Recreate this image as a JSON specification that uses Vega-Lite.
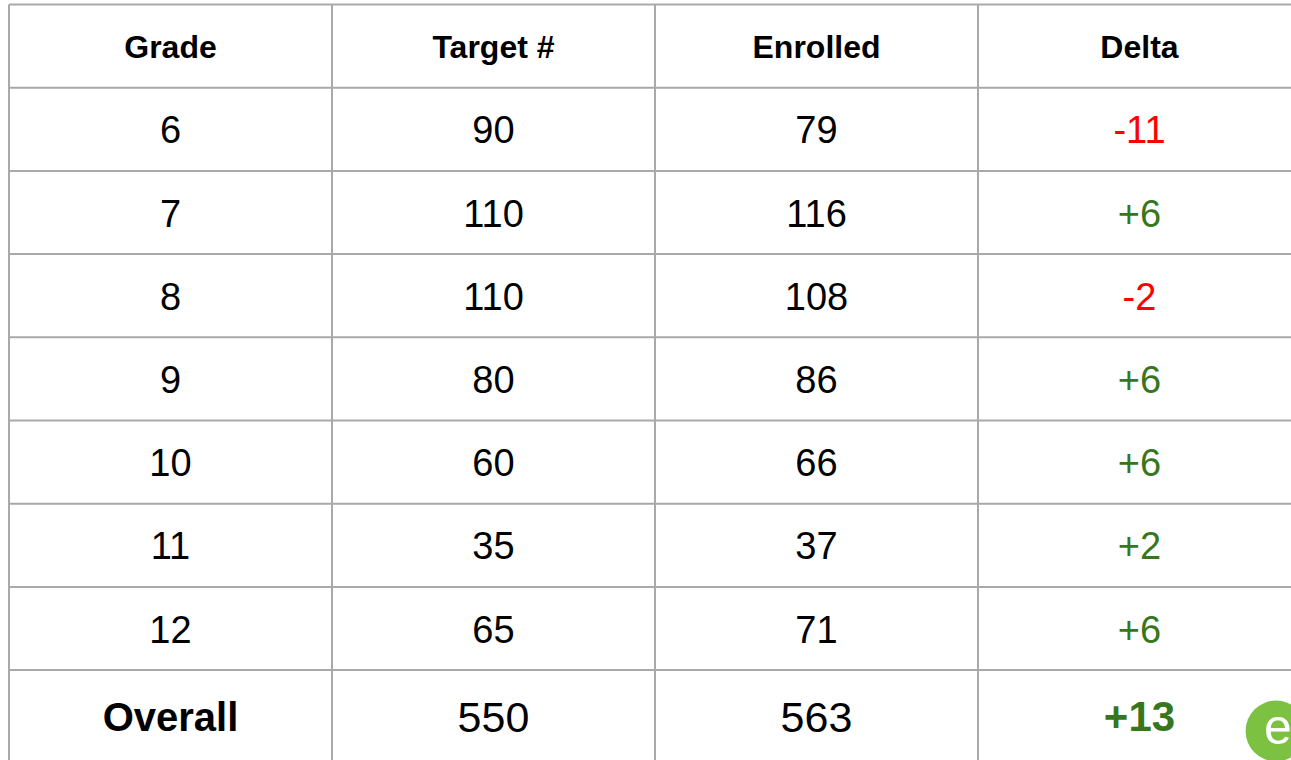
{
  "$schema": "https://vega.github.io/schema/vega-lite/v6.json",
  "width": 1291,
  "height": 760,
  "autosize": {"type": "fit", "contains": "padding"},
  "padding": 0,
  "background": "white",
  "config": {"view": {"stroke": null}, "text": {"font": "Liberation Sans"}},
  "datasets": {
    "cells": [
      {"col": 0, "row": 0, "label": "Grade", "kind": "header", "tone": "none"},
      {"col": 1, "row": 0, "label": "Target #", "kind": "header", "tone": "none"},
      {"col": 2, "row": 0, "label": "Enrolled", "kind": "header", "tone": "none"},
      {"col": 3, "row": 0, "label": "Delta", "kind": "header", "tone": "none"},
      {"col": 0, "row": 1, "label": "6", "kind": "body", "tone": "none"},
      {"col": 1, "row": 1, "label": "90", "kind": "body", "tone": "none"},
      {"col": 2, "row": 1, "label": "79", "kind": "body", "tone": "none"},
      {"col": 3, "row": 1, "label": "-11", "kind": "body", "tone": "neg"},
      {"col": 0, "row": 2, "label": "7", "kind": "body", "tone": "none"},
      {"col": 1, "row": 2, "label": "110", "kind": "body", "tone": "none"},
      {"col": 2, "row": 2, "label": "116", "kind": "body", "tone": "none"},
      {"col": 3, "row": 2, "label": "+6", "kind": "body", "tone": "pos"},
      {"col": 0, "row": 3, "label": "8", "kind": "body", "tone": "none"},
      {"col": 1, "row": 3, "label": "110", "kind": "body", "tone": "none"},
      {"col": 2, "row": 3, "label": "108", "kind": "body", "tone": "none"},
      {"col": 3, "row": 3, "label": "-2", "kind": "body", "tone": "neg"},
      {"col": 0, "row": 4, "label": "9", "kind": "body", "tone": "none"},
      {"col": 1, "row": 4, "label": "80", "kind": "body", "tone": "none"},
      {"col": 2, "row": 4, "label": "86", "kind": "body", "tone": "none"},
      {"col": 3, "row": 4, "label": "+6", "kind": "body", "tone": "pos"},
      {"col": 0, "row": 5, "label": "10", "kind": "body", "tone": "none"},
      {"col": 1, "row": 5, "label": "60", "kind": "body", "tone": "none"},
      {"col": 2, "row": 5, "label": "66", "kind": "body", "tone": "none"},
      {"col": 3, "row": 5, "label": "+6", "kind": "body", "tone": "pos"},
      {"col": 0, "row": 6, "label": "11", "kind": "body", "tone": "none"},
      {"col": 1, "row": 6, "label": "35", "kind": "body", "tone": "none"},
      {"col": 2, "row": 6, "label": "37", "kind": "body", "tone": "none"},
      {"col": 3, "row": 6, "label": "+2", "kind": "body", "tone": "pos"},
      {"col": 0, "row": 7, "label": "12", "kind": "body", "tone": "none"},
      {"col": 1, "row": 7, "label": "65", "kind": "body", "tone": "none"},
      {"col": 2, "row": 7, "label": "71", "kind": "body", "tone": "none"},
      {"col": 3, "row": 7, "label": "+6", "kind": "body", "tone": "pos"},
      {"col": 0, "row": 8, "label": "Overall", "kind": "totalLabel", "tone": "none"},
      {"col": 1, "row": 8, "label": "550", "kind": "totalValue", "tone": "none"},
      {"col": 2, "row": 8, "label": "563", "kind": "totalValue", "tone": "none"},
      {"col": 3, "row": 8, "label": "+13", "kind": "totalDelta", "tone": "pos"}
    ],
    "vlines": [{"b": -0.5}, {"b": 0.5}, {"b": 1.5}, {"b": 2.5}, {"b": 3.5}],
    "hlines": [{"b": -0.5}, {"b": 0.5}, {"b": 1.5}, {"b": 2.5}, {"b": 3.5}, {"b": 4.5}, {"b": 5.5}, {"b": 6.5}, {"b": 7.5}],
    "logo": [{"lx": 3.4226, "ly": 8.232, "t": "e"}]
  },
  "layer": [
    {
      "data": {"name": "vlines"},
      "mark": {"type": "rule", "color": "#a9a9a9", "strokeWidth": 2, "clip": true},
      "encoding": {
        "x": {"field": "b", "type": "quantitative", "scale": {"domain": [-0.52786, 3.46904], "zero": false, "nice": false}, "axis": null},
        "y": {"datum": -0.5, "type": "quantitative", "scale": {"domain": [-0.5541, 8.5805], "zero": false, "nice": false, "reverse": true}, "axis": null},
        "y2": {"datum": 9.5}
      }
    },
    {
      "data": {"name": "hlines"},
      "mark": {"type": "rule", "color": "#a9a9a9", "strokeWidth": 2, "clip": true},
      "encoding": {
        "y": {"field": "b", "type": "quantitative", "scale": {"domain": [-0.5541, 8.5805], "zero": false, "nice": false, "reverse": true}, "axis": null},
        "x": {"datum": -0.5, "type": "quantitative", "scale": {"domain": [-0.52786, 3.46904], "zero": false, "nice": false}, "axis": null},
        "x2": {"datum": 3.5}
      }
    },
    {
      "data": {"name": "cells"},
      "transform": [{"filter": "datum.kind === 'header'"}],
      "mark": {"type": "text", "fontWeight": "bold", "fontSize": 32, "baseline": "middle", "align": "center", "color": "#000000", "dy": 2},
      "encoding": {
        "x": {"field": "col", "type": "quantitative", "scale": {"domain": [-0.52786, 3.46904], "zero": false, "nice": false}, "axis": null},
        "y": {"field": "row", "type": "quantitative", "scale": {"domain": [-0.5541, 8.5805], "zero": false, "nice": false, "reverse": true}, "axis": null},
        "text": {"field": "label"}
      }
    },
    {
      "data": {"name": "cells"},
      "transform": [{"filter": "datum.kind === 'body'"}],
      "mark": {"type": "text", "fontSize": 38, "baseline": "middle", "align": "center", "dy": 3},
      "encoding": {
        "x": {"field": "col", "type": "quantitative", "scale": {"domain": [-0.52786, 3.46904], "zero": false, "nice": false}, "axis": null},
        "y": {"field": "row", "type": "quantitative", "scale": {"domain": [-0.5541, 8.5805], "zero": false, "nice": false, "reverse": true}, "axis": null},
        "text": {"field": "label"},
        "color": {"field": "tone", "type": "nominal", "scale": {"domain": ["none", "neg", "pos"], "range": ["#000000", "#ff0000", "#38761d"]}, "legend": null}
      }
    },
    {
      "data": {"name": "cells"},
      "transform": [{"filter": "datum.kind === 'totalLabel'"}],
      "mark": {"type": "text", "fontWeight": "bold", "fontSize": 40, "baseline": "middle", "align": "center", "color": "#000000", "dy": 7},
      "encoding": {
        "x": {"field": "col", "type": "quantitative", "scale": {"domain": [-0.52786, 3.46904], "zero": false, "nice": false}, "axis": null},
        "y": {"field": "row", "type": "quantitative", "scale": {"domain": [-0.5541, 8.5805], "zero": false, "nice": false, "reverse": true}, "axis": null},
        "text": {"field": "label"}
      }
    },
    {
      "data": {"name": "cells"},
      "transform": [{"filter": "datum.kind === 'totalValue'"}],
      "mark": {"type": "text", "fontSize": 43, "baseline": "middle", "align": "center", "color": "#000000", "dy": 7},
      "encoding": {
        "x": {"field": "col", "type": "quantitative", "scale": {"domain": [-0.52786, 3.46904], "zero": false, "nice": false}, "axis": null},
        "y": {"field": "row", "type": "quantitative", "scale": {"domain": [-0.5541, 8.5805], "zero": false, "nice": false, "reverse": true}, "axis": null},
        "text": {"field": "label"}
      }
    },
    {
      "data": {"name": "cells"},
      "transform": [{"filter": "datum.kind === 'totalDelta'"}],
      "mark": {"type": "text", "fontWeight": "bold", "fontSize": 42, "baseline": "middle", "align": "center", "dy": 6},
      "encoding": {
        "x": {"field": "col", "type": "quantitative", "scale": {"domain": [-0.52786, 3.46904], "zero": false, "nice": false}, "axis": null},
        "y": {"field": "row", "type": "quantitative", "scale": {"domain": [-0.5541, 8.5805], "zero": false, "nice": false, "reverse": true}, "axis": null},
        "text": {"field": "label"},
        "color": {"field": "tone", "type": "nominal", "scale": {"domain": ["none", "neg", "pos"], "range": ["#000000", "#ff0000", "#38761d"]}, "legend": null}
      }
    },
    {
      "data": {"name": "logo"},
      "mark": {"type": "point", "shape": "circle", "filled": true, "color": "#7dc142", "opacity": 1, "size": 3700, "clip": true},
      "encoding": {
        "x": {"field": "lx", "type": "quantitative", "scale": {"domain": [-0.52786, 3.46904], "zero": false, "nice": false}, "axis": null},
        "y": {"field": "ly", "type": "quantitative", "scale": {"domain": [-0.5541, 8.5805], "zero": false, "nice": false, "reverse": true}, "axis": null}
      }
    },
    {
      "data": {"name": "logo"},
      "mark": {"type": "text", "fontSize": 50, "baseline": "middle", "align": "center", "color": "#ffffff", "dy": -2, "dx": 2, "clip": true},
      "encoding": {
        "x": {"field": "lx", "type": "quantitative", "scale": {"domain": [-0.52786, 3.46904], "zero": false, "nice": false}, "axis": null},
        "y": {"field": "ly", "type": "quantitative", "scale": {"domain": [-0.5541, 8.5805], "zero": false, "nice": false, "reverse": true}, "axis": null},
        "text": {"field": "t"}
      }
    }
  ]
}
